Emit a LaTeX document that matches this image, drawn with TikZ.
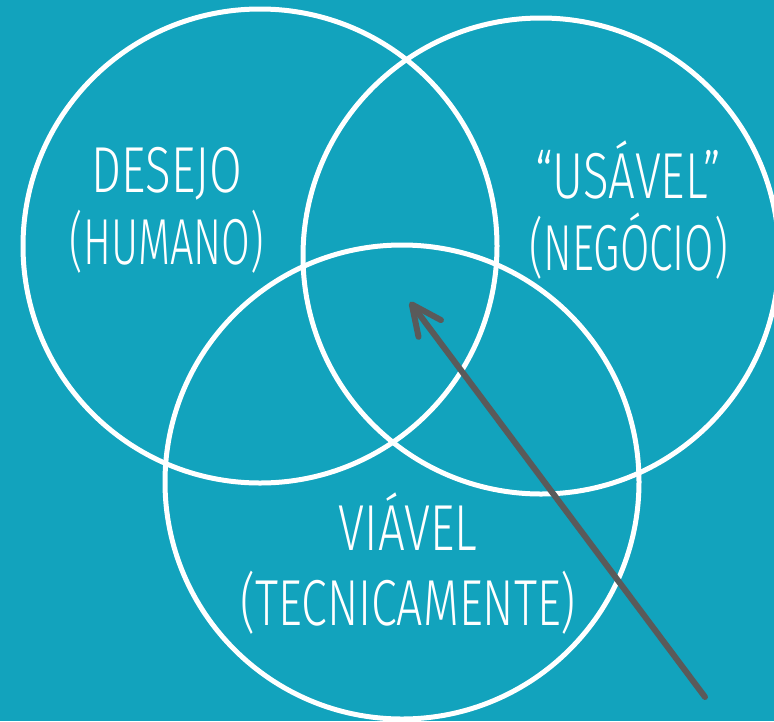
\documentclass[tikz,border=0pt]{standalone}
\usepackage{fontspec}
\setmainfont{Fira Sans}[UprightFont=* Light]
\usetikzlibrary{arrows.meta}
\definecolor{bgteal}{HTML}{12A3BD}
\definecolor{arrowgray}{HTML}{5A5A5A}
\newcommand{\cond}[2][0.73]{\scalebox{#1}[1]{#2}}
\tikzset{
  venn/.style={draw=white, line width=5pt},
  lbl/.style={text=white, font=\fontsize{65}{65}\selectfont, anchor=base, inner sep=0pt},
  pointer/.style={draw=arrowgray, line width=6pt, line cap=round,
    -{Straight Barb[length=30pt, width=28pt, round]}}
}
\begin{document}
\begin{tikzpicture}[x=1pt, y=-1pt]
\fill[bgteal] (0,0) rectangle (774,721);
\useasboundingbox (0,0) rectangle (774,721);
\draw[venn] (260,246) circle (237);
\draw[venn] (541,256) circle (238);
\draw[venn] (402,482) circle (237);
\node[lbl] (desejo) at (167,192) {\cond{DESEJO}};
\node[lbl] (humano) at (167,264) {\cond[0.64]{(HUMANO)}};
\node[lbl] (usavel) at (628,198) {\cond{“USÁVEL”}};
\node[lbl] (negocio) at (629,270) {\cond[0.655]{(NEGÓCIO)}};
\node[lbl] (viavel) at (408,550) {\cond{VIÁVEL}};
\node[lbl] (tecnica) at (408,625) {\cond[0.715]{(TECNICAMENTE)}};
\coordinate (tail) at (705,697);
\coordinate (tip) at (410,302);
\draw[pointer] (tail) -- (tip);
\end{tikzpicture}
\end{document}
